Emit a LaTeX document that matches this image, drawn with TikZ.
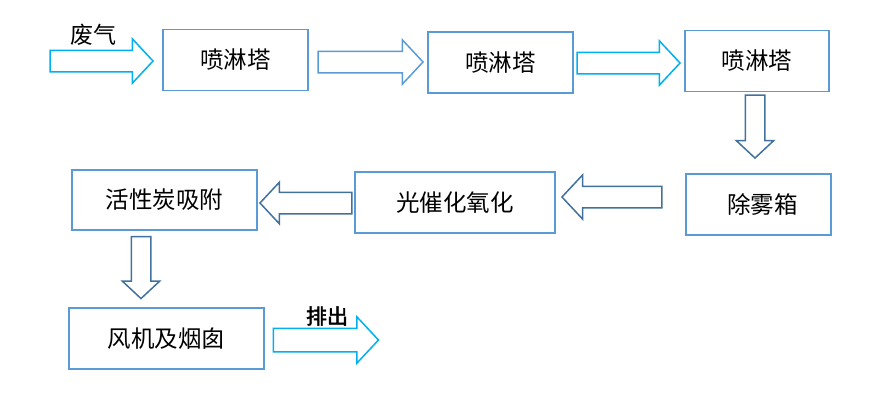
\documentclass[tikz,border=0pt]{standalone}
\usepackage{fontspec}
\setmainfont[AutoFakeBold=2]{Noto Sans CJK SC}
\usetikzlibrary{shapes.arrows}
\definecolor{boxblue}{HTML}{5B9BD5}
\definecolor{flowcyan}{HTML}{00B0F0}
\definecolor{darkblue}{HTML}{41719C}

\begin{document}
\begin{tikzpicture}[x=1pt,y=-1pt,
		box/.style={draw=boxblue,line width=1.6pt,minimum height=61pt,font=\fontsize{23.5}{26}\selectfont},
		fatarrow/.style={single arrow,draw,fill=white,line width=1.5pt,inner xsep=0pt,inner ysep=10pt,single arrow head extend=11.5pt,single arrow tip angle=94},
		downarrow/.style={fatarrow,draw=darkblue,inner sep=9pt,single arrow head extend=9pt,shape border rotate=270},
		label/.style={font=\fontsize{23}{26}\selectfont}]
	\useasboundingbox (0,0) rectangle (891,410);
		%boxes
			\node[box,minimum width=145pt] (t1) at (235.5,60) {喷淋塔\hspace{8pt}};
			\node[box,minimum width=145pt] (t2) at (500.5,62.5) {喷淋塔\hspace{28pt}};
			\node[box,minimum width=144pt] (t3) at (757,61) {喷淋塔\hspace{18pt}};
			\node[box,minimum width=145pt] (dm) at (758.5,204.5) {\hspace{8pt}除雾箱};
			\node[box,minimum width=200pt] (pc) at (455,202.5) {光催化氧化\hspace{6pt}};
			\node[box,minimum width=185pt,minimum height=60pt] (ac) at (164.5,200) {活性炭吸附};
			\node[box,minimum width=195pt] (fan) at (166.5,338.5) {风机及烟囱\hspace{12pt}};
		%arrows
			\node[fatarrow,draw=flowcyan,minimum height=103pt] (a0) at (96.5,61) {};
			\node[fatarrow,draw=boxblue,minimum height=105pt] (a1) at (365.5,62) {};
			\node[fatarrow,draw=flowcyan,minimum height=103pt] (a2) at (623.5,63) {};
			\node[downarrow,minimum height=63pt] (a3) at (755,122) {};
			\node[fatarrow,draw=darkblue,minimum height=100pt,shape border rotate=180] (a4) at (617,197) {};
			\node[fatarrow,draw=darkblue,minimum height=92pt,single arrow head extend=10pt,shape border rotate=180] (a5) at (311,203) {};
			\node[downarrow,minimum height=62pt] (a6) at (141,263) {};
			\node[fatarrow,draw=flowcyan,minimum height=105pt,inner ysep=11pt] (a7) at (320.5,340) {};
		%labels
			\node[label] (in) at (93,35) {废气};
			\node[label,font=\fontsize{21}{24}\selectfont\bfseries] (out) at (327,316) {排出};
	\end{tikzpicture}
\end{document}
